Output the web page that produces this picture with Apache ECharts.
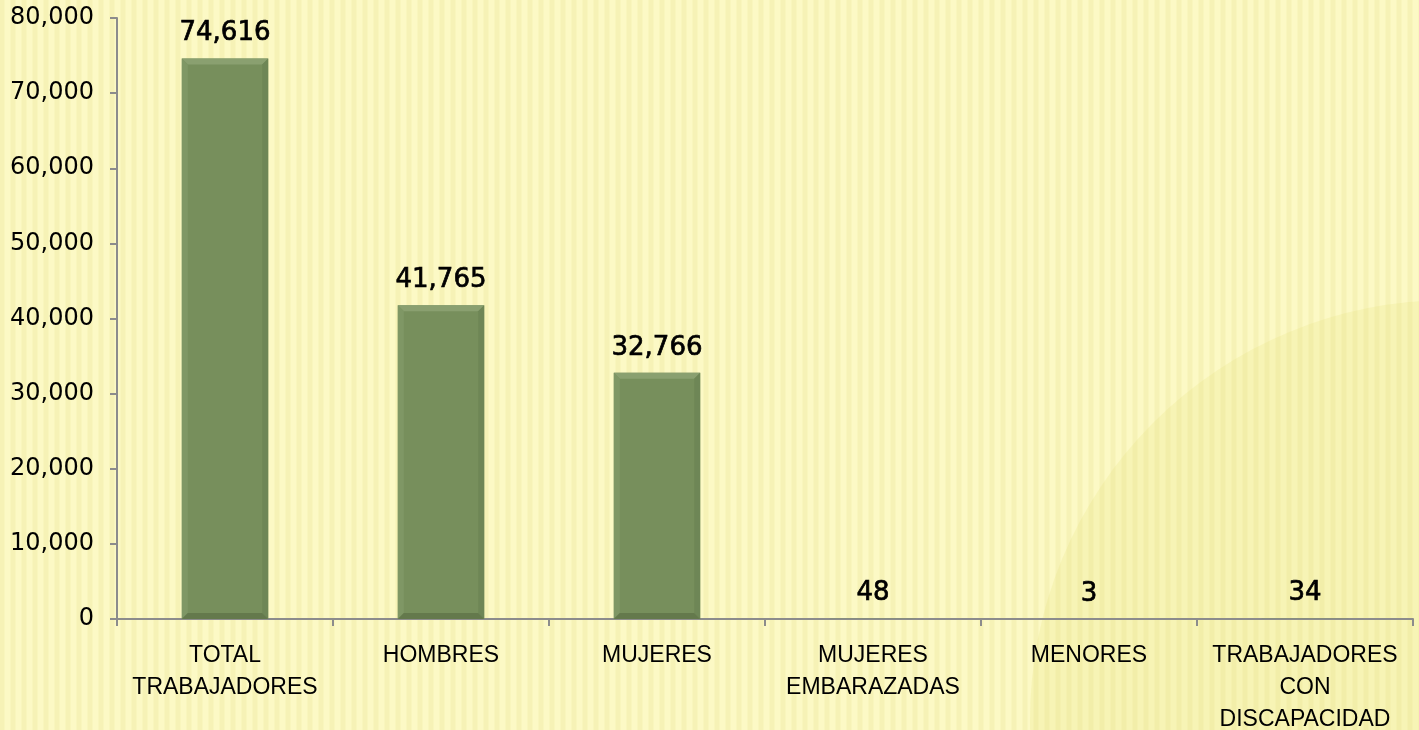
<!DOCTYPE html>
<html>
<head>
<meta charset="utf-8">
<script src="https://cdn.jsdelivr.net/npm/echarts@6/dist/echarts.min.js"></script>
<style>
  html, body { margin: 0; padding: 0; }
  #chart { width: 1419px; height: 730px; }
</style>
</head>
<body>
<div id="chart"></div>
<script>
// categorías del eje x
const categorias = [
    "TOTAL\nTRABAJADORES",
    "HOMBRES",
    "MUJERES",
    "MUJERES\nEMBARAZADAS",
    "MENORES",
    "TRABAJADORES\nCON\nDISCAPACIDAD",
];
// número de trabajadores
const valores = [74616, 41765, 32766, 48, 3, 34];
// marcas del eje y
const yMin = 0;
const yMax = 80000;
const yInterval = 10000;

// fondo con rayas verticales (patrón)
function crearPatron() {
    const c = document.createElement("canvas");
    c.width = 11;
    c.height = 4;
    const ctx = c.getContext("2d");
    ctx.fillStyle = "#fcf9c5";
    ctx.fillRect(0, 0, 11, 4);
    ctx.fillStyle = "#f6f2b6";
    ctx.fillRect(0, 0, 4, 4);
    ctx.fillStyle = "#f9f6bd";
    ctx.fillRect(4, 0, 1, 4);
    ctx.fillRect(10, 0, 1, 4);
    return c;
}

const chart = echarts.init(document.getElementById("chart"));

const fmt = v => v.toLocaleString("en-US");

// dibuja el biselado de cada barra encima de la barra normal
function biselado(params, api) {
    const idx = api.value(0);
    const top = api.coord([idx, api.value(1)]);
    const base = api.coord([idx, 0]);
    const w = api.size([1, 0])[0] * 0.4;
    const h = base[1] - top[1];
    if (h < 12) return null;
    const x0 = top[0] - w / 2;
    const x1 = top[0] + w / 2;
    const y0 = top[1];
    const y1 = base[1];
    const b = 6;
    const poly = (pts, fill) => ({
        type: "polygon",
        shape: { points: pts },
        style: { fill: fill },
    });
    return {
        type: "group",
        children: [
            poly([[x0, y0], [x1, y0], [x1 - b, y0 + b], [x0 + b, y0 + b]], "#8aa070"),
            poly([[x0, y0], [x0 + b, y0 + b], [x0 + b, y1 - b], [x0, y1]], "#7f9765"),
            poly([[x1, y0], [x1, y1], [x1 - b, y1 - b], [x1 - b, y0 + b]], "#6e8656"),
            poly([[x0, y1], [x0 + b, y1 - b], [x1 - b, y1 - b], [x1, y1]], "#64794c"),
        ],
    };
}

const option = {
    animation: false,
    backgroundColor: "#fcf9c5",
    graphic: [
        {
            type: "rect",
            z: -10,
            silent: true,
            shape: { x: 0, y: 0, width: 1419, height: 730 },
            style: { fill: { image: crearPatron(), repeat: "repeat" } },
        },
        {
            type: "circle",
            z: -9,
            silent: true,
            shape: { cx: 1450, cy: 720, r: 420 },
            style: { fill: "rgba(230, 224, 110, 0.18)" },
        },
    ],
    grid: {
        left: 117,
        right: 6,
        top: 18,
        bottom: 111,
        containLabel: false,
        outerBoundsMode: "none",
    },
    xAxis: {
        type: "category",
        data: categorias,
        axisLine: { lineStyle: { color: "#8c8c8c", width: 2 } },
        axisTick: { show: true, length: 7, lineStyle: { color: "#8c8c8c", width: 2 } },
        axisLabel: {
            color: "#000",
            fontFamily: "Liberation Sans",
            fontSize: 23,
            lineHeight: 32,
            margin: 21,
            interval: 0,
        },
    },
    yAxis: {
        type: "value",
        min: yMin,
        max: yMax,
        interval: yInterval,
        axisLine: { show: true, lineStyle: { color: "#8c8c8c", width: 2 } },
        axisTick: { show: true, length: 7, lineStyle: { color: "#8c8c8c", width: 2 } },
        splitLine: { show: false },
        axisLabel: {
            color: "#000",
            fontFamily: "DejaVu Sans",
            fontSize: 24,
            margin: 23,
            formatter: v => fmt(v),
        },
    },
    series: [
        {
            type: "bar",
            data: valores,
            barWidth: "40%",
            itemStyle: { color: "#778f5c" },
            label: {
                show: true,
                position: "top",
                distance: 12,
                color: "#000",
                fontFamily: "DejaVu Sans",
                fontSize: 26,
                textBorderColor: "#000",
                textBorderWidth: 0.7,
                formatter: p => fmt(p.value),
            },
        },
        {
            type: "custom",
            renderItem: biselado,
            data: valores.map((v, i) => [i, v]),
            z: 3,
            silent: true,
        },
    ],
};

chart.setOption(option);
</script>
</body>
</html>
